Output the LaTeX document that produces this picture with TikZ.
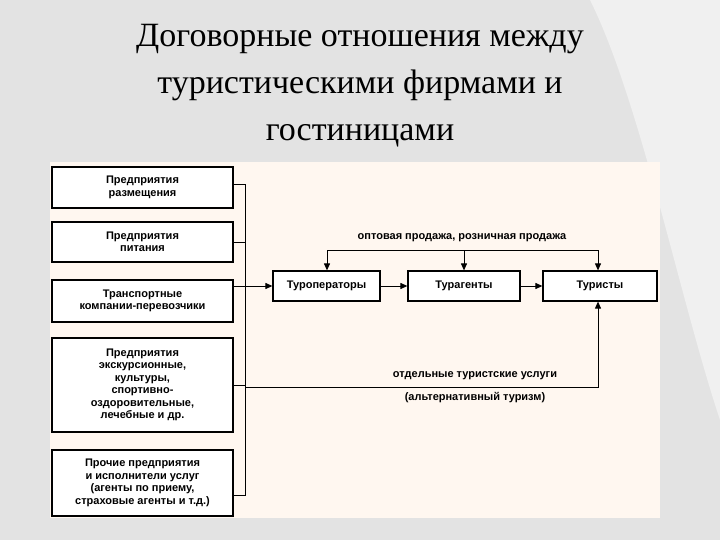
\documentclass[tikz,border=0pt]{standalone}
\usepackage{fontspec}
\setmainfont{Liberation Sans}
\newfontfamily\titlefont{Liberation Serif}
\usetikzlibrary{arrows.meta}
\begin{document}
\begin{tikzpicture}[x=1pt,y=-1pt,
  bx/.style={draw,line width=1.2pt,fill=white,align=center,font=\bfseries\fontsize{11}{12.5}\selectfont,inner sep=1pt},
  lb/.style={font=\bfseries\fontsize{11}{12}\selectfont},
  ln/.style={line width=1pt},
  ar/.style={ln,-{Triangle[length=7pt,width=6pt]}}]
\useasboundingbox (0,0) rectangle (720,540);
\fill[gray!22] (0,0) rectangle (720,540);
\fill[gray!12] (590,0) .. controls (640,100) and (680,300) .. (720,420) -- (720,0) -- cycle;
\node[font=\titlefont\fontsize{34}{47}\selectfont,align=center] (title) at (360,86) {Договорные отношения между\\туристическими фирмами и\\гостиницами};
\fill[orange!6!white] (50,162) rectangle (660,518);
\node[bx,minimum width=181,minimum height=41] (b1) at (142.5,187.5) {Предприятия\\размещения};
\node[bx,minimum width=181,minimum height=40] (b2) at (142.5,242) {Предприятия\\питания};
\node[bx,minimum width=181,minimum height=42] (b3) at (142.5,301) {Транспортные\\компании-перевозчики};
\node[bx,minimum width=181,minimum height=94] (b4) at (142.5,385) {Предприятия\\экскурсионные,\\культуры,\\спортивно-\\оздоровительные,\\лечебные и др.};
\node[bx,minimum width=181,minimum height=66,inner sep=0pt] (b5) at (142.5,483) {Прочие предприятия\\и исполнители услуг\\(агенты по приему,\\страховые агенты и т.д.)};
\node[bx,minimum width=107,minimum height=30] (t1) at (326.5,286) {Туроператоры};
\node[bx,minimum width=112,minimum height=30] (t2) at (464,286) {Турагенты};
\node[bx,minimum width=114,minimum height=30] (t3) at (600,286) {Туристы};
\coordinate (bt) at (245,185);
\coordinate (bb) at (245,495);
\draw[ln] (b1.east|-bt) -- (bt) -- (bb) -- (b5.east|-bb);
\draw[ln] (b2.east) -- (245,242);
\draw[ln] (b4.east) -- (245,385);
\draw[ar] (b3.east|-t1) -- (t1.west);
\draw[ar] (t1) -- (t2);
\draw[ar] (t2) -- (t3);
\coordinate (tl) at (327,250);
\coordinate (tr) at (598,250);
\draw[ln] (tl) -- (tr);
\draw[ar] (tl) -- (tl|-t1.north);
\draw[ar] (464,250) -- (t2.north);
\draw[ar] (tr) -- (tr|-t3.north);
\node[lb] (l1) at (462,238) {оптовая продажа, розничная продажа};
\coordinate (br) at (598,387);
\draw[ar] (245,387) -- (br) -- (br|-t3.south);
\node[lb] (l2) at (475,376) {отдельные туристские услуги};
\node[lb] (l3) at (475,398) {(альтернативный туризм)};
\end{tikzpicture}
\end{document}
